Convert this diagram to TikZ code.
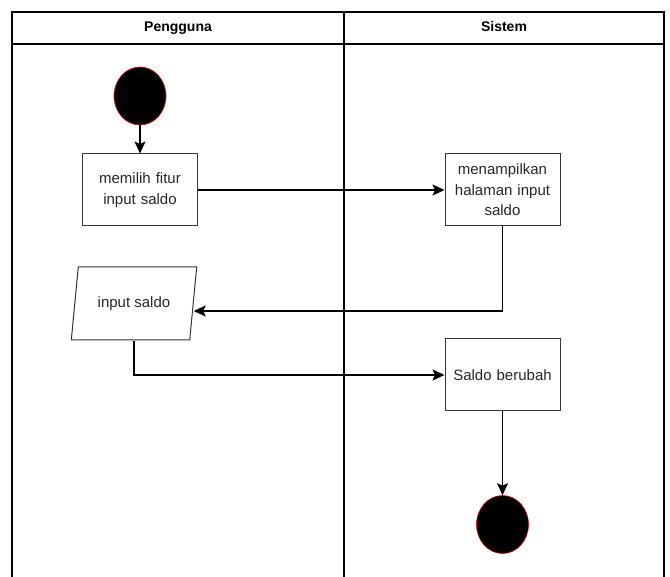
\documentclass[tikz,border=0pt]{standalone}
\usepackage{fontspec}
\setmainfont{Liberation Sans}
\usetikzlibrary{arrows.meta, positioning, shapes.geometric}

\begin{document}
\begin{tikzpicture}[x=1pt, y=-1pt, on grid, line width=1.2pt,
        font=\fontsize{15}{20.5}\selectfont,
        >={Stealth[length=12pt, width=11pt, inset=2.5pt]},
        act/.style={draw=black!80, line width=1pt, minimum width=115pt, minimum height=72pt,
            text width=112pt, inner sep=0pt, align=center, text=black!85},
        io/.style={trapezium, trapezium left angle=72, trapezium right angle=108,
            trapezium stretches=true, draw=black!80, line width=1pt, minimum width=126pt,
            minimum height=73pt, inner sep=0pt, text=black!85},
        dot/.style={ellipse, fill=black, draw=red!85!black, line width=0.6pt,
            minimum width=52pt, minimum height=58pt, inner sep=0pt},
        lane/.style={font=\fontsize{14}{16}\selectfont\bfseries, text height=10pt, text depth=3pt}]
        \useasboundingbox (0,0) rectangle (670,577);

        % swimlanes
        \draw (12,577) -- (12,12) -- (664,12) -- (664,577);
        \draw (12,44) -- (664,44);
        \draw (344,12) -- (344,577);
        \node[lane] (user) at (178,28) {Pengguna};
        \node[lane] (sys) at (504,28) {Sistem};

        \node[dot] (start) at (140,96) {};
        \node[act] (pilih) [below=94pt of start] {memilih fitur\\ input saldo};
        \node[act] (tampil) [right=362.5pt of pilih] {menampilkan\\ halaman input\\ saldo};
        \node[io] (input) at (134,303.5) {input saldo};
        \node[act] (ubah) [below=185pt of tampil] {Saldo berubah};
        \node[dot] (stop) [below=149.5pt of ubah] {};

        \path[->]
        (start) edge (pilih)
        (pilih) edge (tampil)
        (ubah) edge (stop);
        \draw[->] (tampil) |- ([yshift=-7.5pt]input.east);
        \draw[->] (input.south) |- (ubah);

    \end{tikzpicture}
\end{document}
